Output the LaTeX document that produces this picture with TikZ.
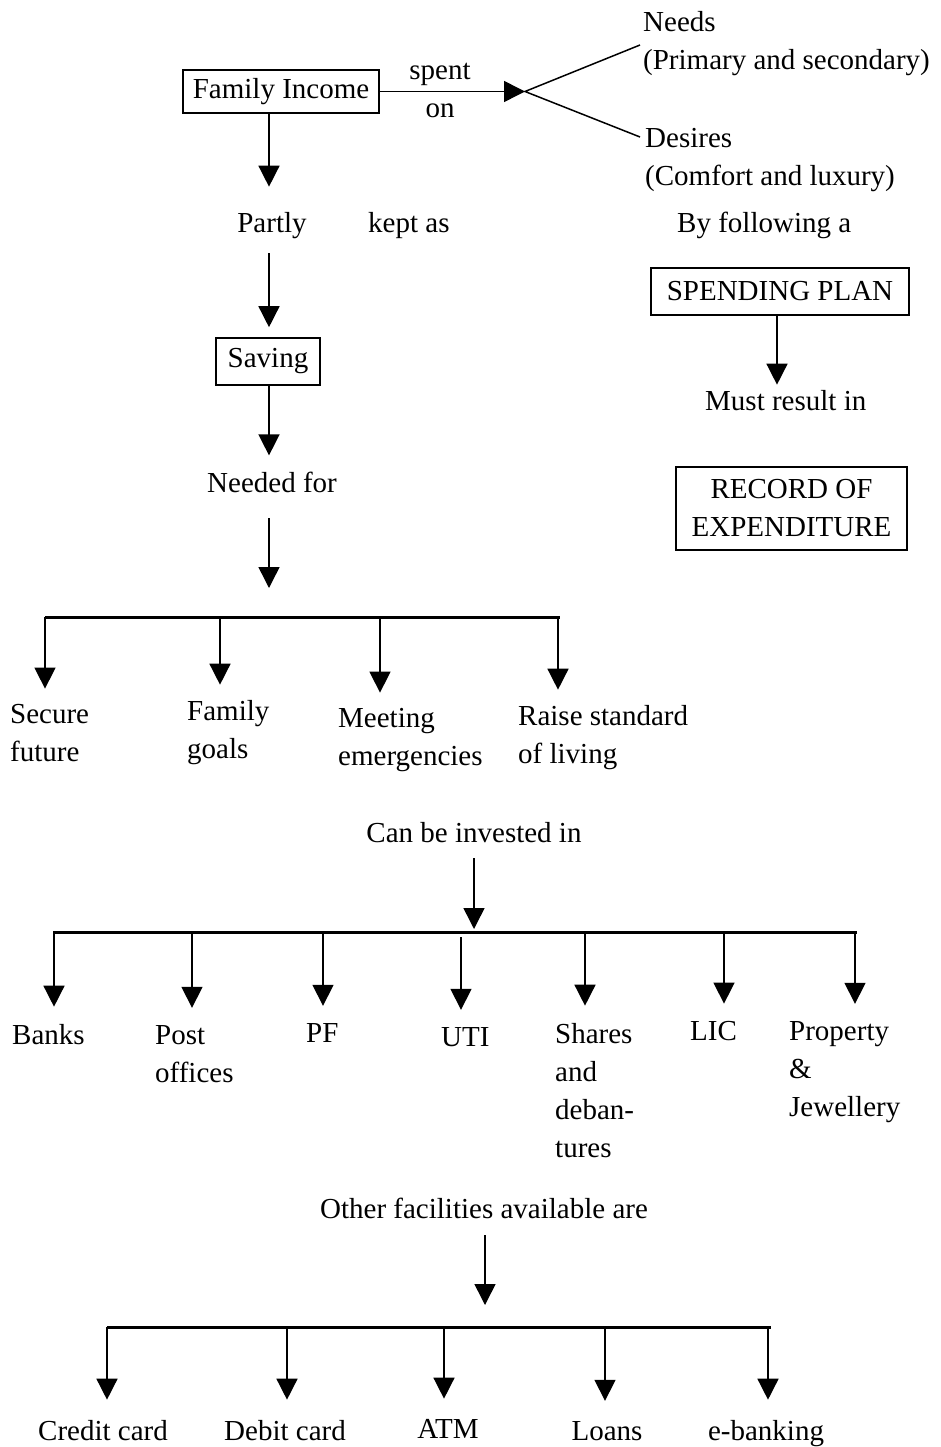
\documentclass[tikz,border=0pt]{standalone}
\usepackage{fontspec}
\setmainfont{Liberation Serif}
\usetikzlibrary{arrows.meta}

\begin{document}
\begin{tikzpicture}[x=1pt,y=-1pt]
    \tikzstyle{every node}=[font=\fontsize{29}{38}\selectfont, inner sep=0pt]
    \tikzstyle{box}=[draw, line width=1.6pt]
    \tikzstyle{arr}=[line width=1.5pt, -{Triangle[length=21pt,width=21pt]}]
    \tikzstyle{bar}=[line width=3pt]

    \useasboundingbox (0,0) rectangle (941,1447);

    % top: income and how it is spent
    \node[box, minimum width=196pt, minimum height=43pt] (income) at (281,91.5) {Family Income};
    \node[anchor=base] (spent) at (440,80) {spent};
    \node[anchor=base] (on) at (440,118) {on};
    \coordinate (fork) at (525,91.5);
    \coordinate (needsend) at (640,45);
    \coordinate (desend) at (640,137);
    % multi-line nodes: base = last line
    \node[anchor=base west, align=left] (needs) at (643,70) {Needs\\(Primary and secondary)};
    \node[anchor=base west, align=left] (desires) at (645,186) {Desires\\(Comfort and luxury)};

    \draw[arr] (income) -- (fork);
    \draw[line width=1.5pt] (needsend) -- (fork) -- (desend);

    % right column
    \node[anchor=base west] (follow) at (677,233) {By following a};
    \node[box, minimum width=258pt, minimum height=47pt] (spend) at (780,291.5) {SPENDING PLAN};
    \node[anchor=base west] (must) at (705,410) {Must result in};
    \node[box, align=center, minimum width=231pt, minimum height=83pt] (record) at (791.5,508.5) {RECORD OF\\EXPENDITURE};

    \draw[arr, shorten >=5pt] (spend.south -| 777,0) -- (777,0 |- must.north);

    % saving column
    \coordinate (col) at (269,0);
    \node[anchor=base] (partly) at (272,233) {Partly};
    \node[anchor=base west] (kept) at (368,233) {kept as};
    \node[box, minimum width=104pt, minimum height=47pt] (saving) at (268,361.5) {Saving};
    \node[anchor=base] (needed) at (272,492) {Needed for};
    \coordinate (nfend) at (269,588);

    \draw[arr, shorten >=26pt] (income.south -| col) -- (partly.north -| col);
    \draw[arr, shorten <=14pt, shorten >=10pt] (partly.south -| col) -- (saving.north -| col);
    \draw[arr, shorten >=16pt] (saving.south -| col) -- (needed.north -| col);
    \draw[arr, shorten <=26pt] (needed.south -| col) -- (nfend);

    % needed for
    \coordinate (nbL) at (45,617);
    \coordinate (nbR) at (560,617);
    \draw[bar] (nbL) -- (nbR);
    \node[anchor=base west, align=left] (secure) at (10,761) {Secure\\future};
    \node[anchor=base west, align=left] (goals) at (187,758) {Family\\goals};
    \node[anchor=base west, align=left] (emerg) at (338,765) {Meeting\\emergencies};
    \node[anchor=base west, align=left] (raise) at (518,763) {Raise standard\\of living};
    \foreach \x/\n in {45/secure, 220/goals, 380/emerg, 558/raise}
        \draw[arr, shorten >=15pt] (\x,0 |- nbL) -- (\x,0 |- \n.north);

    % investments
    \node[anchor=base] (invest) at (474,842) {Can be invested in};
    \coordinate (ibL) at (53,932);
    \coordinate (ibR) at (857,932);
    \draw[arr, shorten <=16pt, shorten >=3pt] (invest.south) -- (invest.south |- ibL);
    \draw[bar] (ibL) -- (ibR);
    \node[anchor=base west] (banks) at (12,1044) {Banks};
    \node[anchor=base west, align=left] (post) at (155,1082) {Post\\offices};
    \node[anchor=base west] (pf) at (306,1042) {PF};
    \node[anchor=base west] (uti) at (441,1046) {UTI};
    \node[anchor=base west, align=left] (shares) at (555,1157) {Shares\\and\\deban-\\tures};
    \node[anchor=base west] (lic) at (690,1040) {LIC};
    \node[anchor=base west, align=left] (prop) at (789,1116) {Property\\\&\\Jewellery};
    \foreach \x/\n in {54/banks, 192/post, 323/pf, 585/shares, 724/lic, 855/prop}
        \draw[arr, shorten >=17pt] (\x,0 |- ibL) -- (\x,0 |- \n.north);
    \draw[arr, shorten <=5pt, shorten >=17pt] (461,0 |- ibL) -- (461,0 |- uti.north);

    % other facilities
    \node[anchor=base] (other) at (484,1218) {Other facilities available are};
    \coordinate (ofend) at (485,1305);
    \draw[arr, shorten <=17pt] (other.south -| ofend) -- (ofend);
    \coordinate (obL) at (107,1327);
    \coordinate (obR) at (771,1327);
    \draw[bar] (obL) -- (obR);
    \node[anchor=base] (credit) at (103,1440) {Credit card};
    \node[anchor=base] (debit) at (285,1440) {Debit card};
    \node[anchor=base] (atm) at (448,1438) {ATM};
    \node[anchor=base] (loans) at (607,1440) {Loans};
    \node[anchor=base] (ebank) at (766,1440) {e-banking};
    \foreach \x/\n in {107/credit, 287/debit, 444/atm, 605/loans, 768/ebank}
        \draw[arr, shorten >=20pt] (\x,0 |- obL) -- (\x,0 |- \n.north);
\end{tikzpicture}
\end{document}
